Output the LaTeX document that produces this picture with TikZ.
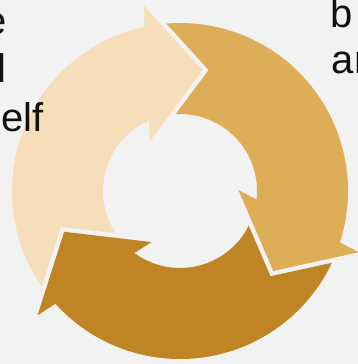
\documentclass[tikz,border=0pt]{standalone}
\usepackage{fontspec}
\newfontfamily\lblfont{Liberation Sans}
\definecolor{bgc}{HTML}{F2F2F2}
\definecolor{cLight}{RGB}{245,222,185}
\definecolor{cMid}{RGB}{222,173,87}
\definecolor{cDark}{RGB}{191,132,35}
\definecolor{txt}{RGB}{20,16,16}
\newcommand\ringpart[3]{%
  \fill[#3] ({#1}:168) arc[start angle={#1}, end angle={#2}, radius=168]
    -- ({#2}:77) arc[start angle={#2}, end angle={#1}, radius=77] -- cycle;}
\newcommand\arrowhd[2]{%
  \draw[gapline] ({#1+21.7}:189) -- ({#1}:122.8) -- ({#1+41.4}:58.5);
  \fill[#2] ({#1+21.7}:189) -- ({#1}:122.8) -- ({#1+41.4}:58.5) -- cycle;}
\begin{document}
\begin{tikzpicture}[x=1pt,y=1pt,
  lbl/.style={inner sep=0pt, outer sep=0pt, text=txt, font=\lblfont\fontsize{40}{48}\selectfont},
  gapline/.style={draw=bgc, line width=9pt, line join=miter, line cap=butt}]
\fill[bgc] (-180,191) rectangle (178,-173);
\useasboundingbox (-180,191) rectangle (178,-173);
\clip (-180,191) rectangle (178,-173);
% ring segments (shafts)
\ringpart{99.4}{219.4}{cLight}
\ringpart{219.4}{339.4}{cDark}
\ringpart{-20.6}{99.4}{cMid}
% arrow heads
\arrowhd{79.4}{cLight}
\arrowhd{319.4}{cMid}
\arrowhd{199.4}{cDark}
% cut-off texts (cropped by the picture's edges, as in the reference)
\node[lbl, anchor=base east] (t1) at (-173.2,156) {e};
\node[lbl, anchor=base east] (t2) at (-173.4,108) {l};
\node[lbl, anchor=base west] (t3) at (-178.3,59) {elf};
\node[lbl, anchor=base west] (t4) at (150.7,163) {b};
\node[lbl, anchor=base west] (t5) at (151.8,117) {ar};
\end{tikzpicture}
\end{document}
